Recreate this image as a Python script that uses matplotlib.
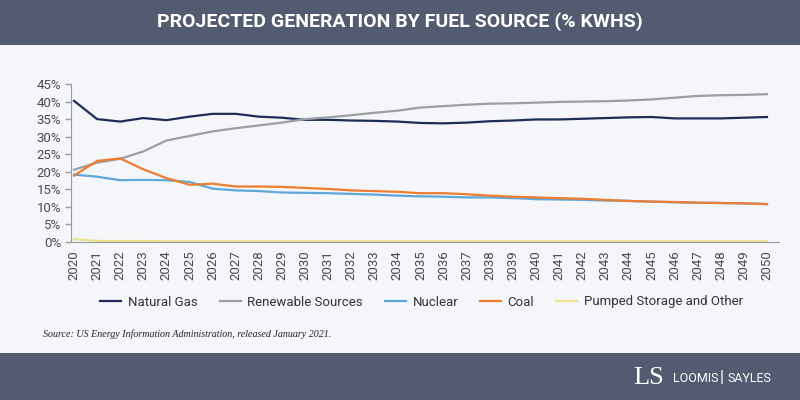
import matplotlib
matplotlib.use("Agg")
import matplotlib.pyplot as plt
from matplotlib.patches import Rectangle
from matplotlib.ticker import FuncFormatter

years = list(range(2020, 2051))

natural_gas = [40.2, 35.0, 34.3, 35.3, 34.7, 35.7, 36.5, 36.5, 35.7, 35.4, 34.8,
               34.8, 34.6, 34.5, 34.3, 33.9, 33.8, 34.0, 34.4, 34.6, 34.9,
               34.9, 35.1, 35.3, 35.5, 35.6, 35.2, 35.2, 35.2, 35.4, 35.6]
renewables = [20.6, 22.6, 23.7, 25.8, 28.9, 30.2, 31.5, 32.4, 33.2, 34.0, 35.0,
              35.5, 36.1, 36.8, 37.4, 38.3, 38.7, 39.1, 39.4, 39.5, 39.7,
              39.9, 40.0, 40.1, 40.3, 40.6, 41.1, 41.6, 41.8, 41.9, 42.1]
nuclear = [19.2, 18.6, 17.6, 17.7, 17.6, 17.1, 15.2, 14.7, 14.5, 14.1, 14.0,
           13.9, 13.7, 13.5, 13.2, 13.0, 12.9, 12.7, 12.7, 12.5, 12.2,
           12.1, 12.0, 11.8, 11.7, 11.5, 11.3, 11.2, 11.1, 11.0, 10.8]
coal = [18.9, 23.1, 23.8, 20.7, 18.2, 16.3, 16.6, 15.8, 15.8, 15.7, 15.4,
        15.1, 14.7, 14.5, 14.3, 13.9, 13.9, 13.6, 13.2, 12.9, 12.7,
        12.5, 12.3, 12.0, 11.7, 11.5, 11.4, 11.2, 11.1, 11.0, 10.8]
pumped = [0.8, 0.3, 0.3, 0.3, 0.2, 0.2, 0.2, 0.2, 0.2, 0.2, 0.2,
          0.2, 0.2, 0.2, 0.2, 0.2, 0.2, 0.2, 0.2, 0.2, 0.2,
          0.2, 0.2, 0.2, 0.2, 0.2, 0.2, 0.2, 0.2, 0.2, 0.2]

series = [
    ("Natural Gas", natural_gas, "#1f2c58"),
    ("Renewable Sources", renewables, "#9d9ea3"),
    ("Nuclear", nuclear, "#5fa6db"),
    ("Coal", coal, "#ee7d30"),
    ("Pumped Storage and Other", pumped, "#ebe38f"),
]

bg = "#f4f6fa"
band = "#525b6f"

fig = plt.figure(figsize=(8, 4), dpi=100, facecolor=bg)

# header and footer bands
fig.patches.append(Rectangle((0, 1 - 45 / 400), 1, 45 / 400, transform=fig.transFigure,
                             facecolor=band, edgecolor="none", zorder=0))
fig.patches.append(Rectangle((0, 0), 1, 47 / 400, transform=fig.transFigure,
                             facecolor=band, edgecolor="none", zorder=0))
fig.text(0.5, 1 - 22 / 400, "PROJECTED GENERATION BY FUEL SOURCE (% KWHS)",
         ha="center", va="center", color="white", fontsize=14,
         fontweight="bold", family="Roboto")

ax = fig.add_axes([71 / 800, 1 - 242 / 400, (779 - 71) / 800, (242 - 84) / 400])
ax.set_facecolor(bg)

for name, vals, col in series:
    ax.plot(years, vals, color=col, lw=1.6, label=name)

ax.set_xlim(2019.87, 2050.52)
ax.set_ylim(0, 45)
ax.set_yticks(range(0, 46, 5))
ax.yaxis.set_major_formatter(FuncFormatter(lambda v, p: "%d%%" % v))
ax.set_xticks(years)
ax.set_xticklabels([str(y) for y in years], rotation=90)
ax.tick_params(axis="x", length=0, pad=6, labelsize=9.5, colors="#4a4a4a")
ax.tick_params(axis="y", length=4, width=1, color="#999999", pad=3,
               labelsize=9.5, labelcolor="#4a4a4a")
for lab in ax.get_xticklabels() + ax.get_yticklabels():
    lab.set_family("Roboto")

for s in ["top", "right"]:
    ax.spines[s].set_visible(False)
ax.spines["left"].set_color("#999999")
ax.spines["bottom"].set_color("#999999")

leg = fig.legend(loc="center", bbox_to_anchor=(0.527, 1 - 302 / 400), ncol=5,
                 frameon=False, handlelength=1.6, handletextpad=0.5,
                 columnspacing=1.65, prop={"family": "Roboto", "size": 9.5})
for t in leg.get_texts():
    t.set_color("#333333")

fig.text(43 / 800, 1 - 334 / 400,
         "Source: US Energy Information Administration, released January 2021.",
         ha="left", va="center", fontsize=7.2, style="italic",
         family="Liberation Serif", color="#222222")

# logo
fig.text(649 / 800, 1 - 378 / 400, "LS", ha="center", va="center",
         fontsize=19, family="Liberation Serif", color="white")
fig.text(673 / 800, 1 - 378 / 400, "LOOMIS", ha="left", va="center",
         fontsize=9, family="Roboto", color="white")
fig.text(722 / 800, 1 - 378 / 400, "|", ha="center", va="center",
         fontsize=12, family="Roboto", color="white")
fig.text(727 / 800, 1 - 378 / 400, "SAYLES", ha="left", va="center",
         fontsize=9, family="Roboto", color="white")

fig.savefig("out.png", dpi=100, facecolor=bg)
